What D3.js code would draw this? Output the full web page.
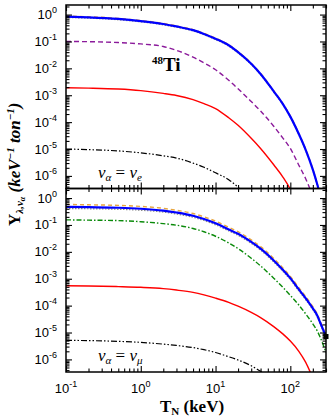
<!DOCTYPE html>
<html>
<head>
<meta charset="utf-8">
<script src="https://cdnjs.cloudflare.com/ajax/libs/d3/7.8.5/d3.min.js"></script>
<style>
  body { margin: 0; background: #fff; }
  svg { display: block; }
</style>
</head>
<body>
<div id="chart"></div>
<script>
var energies = [0.1, 0.2, 0.5, 1, 2, 3, 5, 7, 10, 15, 20, 30, 40, 60, 80, 100, 130, 160, 200, 230, 250, 300];

// top panel: nu_alpha = nu_e
var eBlue   = [0.84, 0.79, 0.69, 0.575, 0.447, 0.363, 0.263, 0.19, 0.126, 0.072, 0.040, 0.0148, 6.2e-3, 1.4e-3, 4.6e-4, 1.6e-4, 3.6e-5, 9.5e-6, 1.7e-6, 4.7e-7, 2e-7, null];
var eOrange = [0.88, 0.83, 0.72, 0.60, 0.47, 0.38, 0.276, 0.2, 0.132, 0.076, 0.042, 0.0155, 6.5e-3, 1.47e-3, 4.8e-4, 1.7e-4, 3.8e-5, 1e-5, 1.8e-6, 4.9e-7, 2.1e-7, null];
var eGray   = [0.78, 0.735, 0.64, 0.535, 0.415, 0.338, 0.245, 0.177, 0.117, 0.067, 0.037, 0.0138, 5.8e-3, 1.3e-3, 4.3e-4, 1.5e-4, 3.35e-5, 8.8e-6, 1.6e-6, 4.4e-7, 1.9e-7, null];
var ePurple = [0.10, 0.098, 0.091, 0.081, 0.065, 0.047, 0.026, 0.016, 8.9e-3, 3.6e-3, 1.74e-3, 5.8e-4, 2.6e-4, 7e-5, 2.5e-5, 1.05e-5, 2.5e-6, 8e-7, 1.8e-7, null, null, null];
var eRed    = [1.9e-3, 1.84e-3, 1.7e-3, 1.48e-3, 1.17e-3, 9.8e-4, 6.9e-4, 4.9e-4, 3.2e-4, 1.45e-4, 7.6e-5, 2.5e-5, 1.05e-5, 2.6e-6, 8.9e-7, 3.2e-7, 6e-8, null, null, null, null, null];
var eBlack  = [1.0e-5, 9.5e-6, 8.5e-6, 7.2e-6, 5.6e-6, 4.6e-6, 3.0e-6, 2.1e-6, 1.3e-6, 7.2e-7, 3.8e-7, 1.1e-7, null, null, null, null, null, null, null, null, null, null];

// bottom panel: nu_alpha = nu_mu
var mBlue   = [0.47, 0.457, 0.436, 0.40, 0.34, 0.29, 0.22, 0.166, 0.115, 0.068, 0.047, 0.0234, 0.0132, 4.8e-3, 2.1e-3, 1.05e-3, 4e-4, 1.9e-4, 7.9e-5, 4.2e-5, 2.4e-5, 7.1e-6];
var mOrange = [0.58, 0.562, 0.535, 0.49, 0.415, 0.353, 0.267, 0.2, 0.139, 0.082, 0.056, 0.028, 0.0157, 5.7e-3, 2.48e-3, 1.23e-3, 4.65e-4, 2.2e-4, 9.1e-5, 4.8e-5, 2.75e-5, 8e-6];
var mGray   = [0.41, 0.40, 0.383, 0.352, 0.30, 0.255, 0.193, 0.146, 0.101, 0.06, 0.041, 0.0206, 0.0116, 4.2e-3, 1.85e-3, 9.2e-4, 3.5e-4, 1.67e-4, 7e-5, 3.7e-5, 2.1e-5, 6.2e-6];
var mGreen  = [0.155, 0.151, 0.145, 0.132, 0.112, 0.098, 0.074, 0.056, 0.038, 0.0214, 0.0132, 5.8e-3, 3.0e-3, 1.05e-3, 4.7e-4, 2.4e-4, 1.05e-4, 5e-5, 2.1e-5, 1.12e-5, 6.8e-6, 1.8e-6];
var mRed    = [5.5e-4, 5.4e-4, 5.1e-4, 4.8e-4, 4.3e-4, 3.8e-4, 3.1e-4, 2.5e-4, 1.9e-4, 1.32e-4, 9.5e-5, 5.6e-5, 3.6e-5, 1.66e-5, 8.7e-6, 4.8e-6, 2e-6, 7.9e-7, 2e-7, null, null, null];
var mBlack  = [5.1e-6, 5e-6, 4.7e-6, 4.3e-6, 3.7e-6, 3.3e-6, 2.75e-6, 2.3e-6, 1.8e-6, 1.26e-6, 9.5e-7, 5.8e-7, 3.6e-7, 1.4e-7, null, null, null, null, null, null, null, null];

// tick labels
var xTickLabels = [{v: 0.1, p: "-1"}, {v: 1, p: "0"}, {v: 10, p: "1"}, {v: 100, p: "2"}];
var yTickExps = [0, -1, -2, -3, -4, -5, -6];

var svgWidth = 332;
var svgHeight = 419;
var margin = { top: 5, right: 6, bottom: 47, left: 66 };
var width = svgWidth - margin.left - margin.right;
var panelHeight = (svgHeight - margin.top - margin.bottom) / 2;

var svg = d3.select("#chart")
  .append("svg")
  .attr("width", svgWidth)
  .attr("height", svgHeight);

var xScale = d3.scaleLog()
  .domain([0.1, 300])
  .range([0, width]);

var xMajor = [0.1, 1, 10, 100];
var xMinor = xScale.ticks().filter(d => xMajor.indexOf(d) < 0);

// series styles
var styles = {
  blue:   { color: "#0000ff", width: 2.2, dash: null },
  orange: { color: "#e8a640", width: 1.4, dash: "4,3" },
  gray:   { color: "#8c8c8c", width: 1.2, dash: "1.5,1.5" },
  purple: { color: "#8b1a9b", width: 1.4, dash: "5,3" },
  green:  { color: "#0a8a0a", width: 1.4, dash: "5,2,1.5,2" },
  red:    { color: "#ff0000", width: 1.4, dash: null },
  black:  { color: "#000000", width: 1.2, dash: "6,2,1.5,2,1.5,2" }
};

function drawPanel(index, series, nuSub, marker) {
  var top = margin.top + index * panelHeight;
  var g = svg.append("g")
    .attr("transform", `translate(${margin.left}, ${top})`);

  var yScale = d3.scaleLog()
    .domain([3.4e-7, 2.27])
    .range([panelHeight, 0]);

  var yMajor = yTickExps.map(e => Math.pow(10, e));
  var yMinor = yScale.ticks().filter(d => {
    var l = Math.log10(d);
    return Math.abs(l - Math.round(l)) > 1e-6;
  });

  // clip the curves to the frame
  g.append("clipPath")
    .attr("id", "clip" + index)
    .append("rect")
    .attr("width", width)
    .attr("height", panelHeight);

  var line = d3.line()
    .defined(d => d[1] != null)
    .x(d => xScale(d[0]))
    .y(d => yScale(d[1]))
    .curve(d3.curveMonotoneX);

  var curves = g.append("g").attr("clip-path", `url(#clip${index})`);
  series.forEach(function(s) {
    var st = styles[s.style];
    curves.append("path")
      .datum(energies.map((e, i) => [e, s.values[i]]))
      .attr("d", line)
      .attr("fill", "none")
      .attr("stroke", st.color)
      .attr("stroke-width", st.width)
      .attr("stroke-dasharray", st.dash);
  });

  if (marker) {
    var last = marker.values[marker.values.length - 1];
    g.append("rect")
      .attr("x", xScale(energies[energies.length - 1]) - 2.5)
      .attr("y", yScale(last) - 2.5)
      .attr("width", 5)
      .attr("height", 5)
      .attr("fill", "#000");
  }

  // axes, ticks pointing inward on all sides
  function addAxis(axis, tr) {
    var a = g.append("g")
      .attr("transform", tr)
      .call(axis);
    a.selectAll("text").remove();
    a.select(".domain").remove();
    a.selectAll("line").attr("stroke", "#000").attr("stroke-width", 1.1);
  }
  addAxis(d3.axisBottom(xScale).tickValues(xMajor).tickSize(-6), `translate(0, ${panelHeight})`);
  addAxis(d3.axisBottom(xScale).tickValues(xMinor).tickSize(-3.5), `translate(0, ${panelHeight})`);
  addAxis(d3.axisTop(xScale).tickValues(xMajor).tickSize(-6), "translate(0, 0)");
  addAxis(d3.axisTop(xScale).tickValues(xMinor).tickSize(-3.5), "translate(0, 0)");
  addAxis(d3.axisLeft(yScale).tickValues(yMajor).tickSize(-6), "translate(0, 0)");
  addAxis(d3.axisLeft(yScale).tickValues(yMinor).tickSize(-3.5), "translate(0, 0)");
  addAxis(d3.axisRight(yScale).tickValues(yMajor).tickSize(-6), `translate(${width}, 0)`);
  addAxis(d3.axisRight(yScale).tickValues(yMinor).tickSize(-3.5), `translate(${width}, 0)`);

  g.append("rect")
    .attr("width", width)
    .attr("height", panelHeight)
    .attr("fill", "none")
    .attr("stroke", "#000")
    .attr("stroke-width", 1.5);

  // y tick labels 10^k
  yTickExps.forEach(function(e) {
    var t = g.append("text")
      .attr("x", -9)
      .attr("y", yScale(Math.pow(10, e)) + 4.5)
      .attr("text-anchor", "end")
      .attr("font-family", "Liberation Sans, Arial, sans-serif")
      .attr("font-size", "13px")
      .attr("fill", "#000");
    t.append("tspan").text("10");
    t.append("tspan")
      .attr("dy", -6)
      .attr("font-size", "9px")
      .text(e === 0 ? "0" : "-" + (-e));
  });

  // nu_alpha = nu_x label
  var nu = g.append("text")
    .attr("x", 32)
    .attr("y", panelHeight - 11)
    .attr("font-family", "Liberation Serif, Times New Roman, serif")
    .attr("font-style", "italic")
    .attr("font-size", "17px")
    .attr("fill", "#000");
  nu.append("tspan").text("\u03BD");
  nu.append("tspan").attr("dy", 3).attr("font-size", "11px").text("\u03B1");
  nu.append("tspan").attr("dy", -3).attr("font-style", "normal").text(" = ");
  nu.append("tspan").text("\u03BD");
  nu.append("tspan").attr("dy", 3).attr("font-size", "11px").text(nuSub);

  return g;
}

var topPanel = drawPanel(0, [
  { style: "orange", values: eOrange },
  { style: "gray",   values: eGray },
  { style: "blue",   values: eBlue },
  { style: "purple", values: ePurple },
  { style: "red",    values: eRed },
  { style: "black",  values: eBlack }
], "e", null);

drawPanel(1, [
  { style: "orange", values: mOrange },
  { style: "gray",   values: mGray },
  { style: "blue",   values: mBlue },
  { style: "green",  values: mGreen },
  { style: "red",    values: mRed },
  { style: "black",  values: mBlack }
], "\u03BC", { values: mBlue });

// 48Ti label
var ti = topPanel.append("text")
  .attr("x", 86)
  .attr("y", 66)
  .attr("font-family", "Liberation Serif, Times New Roman, serif")
  .attr("font-weight", "bold")
  .attr("font-size", "19px")
  .attr("fill", "#000");
ti.append("tspan").attr("dy", -7).attr("font-size", "11px").text("48");
ti.append("tspan").attr("dy", 7).text("Ti");

// x tick labels
xTickLabels.forEach(function(d) {
  var t = svg.append("text")
    .attr("x", margin.left + xScale(d.v))
    .attr("y", svgHeight - margin.bottom + 21)
    .attr("text-anchor", "middle")
    .attr("font-family", "Liberation Sans, Arial, sans-serif")
    .attr("font-size", "13px")
    .attr("fill", "#000");
  t.append("tspan").text("10");
  t.append("tspan").attr("dy", -6).attr("font-size", "9px").text(d.p);
});

// x axis title
var xt = svg.append("text")
  .attr("x", margin.left + width / 2 - 4)
  .attr("y", 412)
  .attr("text-anchor", "middle")
  .attr("font-family", "Liberation Serif, Times New Roman, serif")
  .attr("font-weight", "bold")
  .attr("font-size", "17px")
  .attr("fill", "#000");
xt.append("tspan").text("T");
xt.append("tspan").attr("dy", 3).attr("font-size", "11px").text("N");
xt.append("tspan").attr("dy", -3).text(" (keV)");

// y axis title
var yt = svg.append("text")
  .attr("transform", "rotate(-90)")
  .attr("x", -226)
  .attr("y", 20)
  .attr("text-anchor", "start")
  .attr("font-family", "Liberation Serif, Times New Roman, serif")
  .attr("font-weight", "bold")
  .attr("font-size", "17px")
  .attr("fill", "#000");
yt.append("tspan").text("Y");
yt.append("tspan").attr("dy", 3).attr("font-size", "11px").attr("font-style", "italic").text("\u03BB,\u03BD");
yt.append("tspan").attr("dy", 2).attr("font-size", "8px").attr("font-style", "italic").text("\u03B1");
yt.append("tspan").attr("dy", -5).attr("font-style", "italic").text(" (keV");
yt.append("tspan").attr("dy", -6).attr("font-size", "11px").attr("font-style", "italic").text("\u22121");
yt.append("tspan").attr("dy", 6).attr("font-style", "italic").text(" ton");
yt.append("tspan").attr("dy", -6).attr("font-size", "11px").attr("font-style", "italic").text("\u22121");
yt.append("tspan").attr("dy", 6).attr("font-style", "italic").text(")");
</script>
</body>
</html>
